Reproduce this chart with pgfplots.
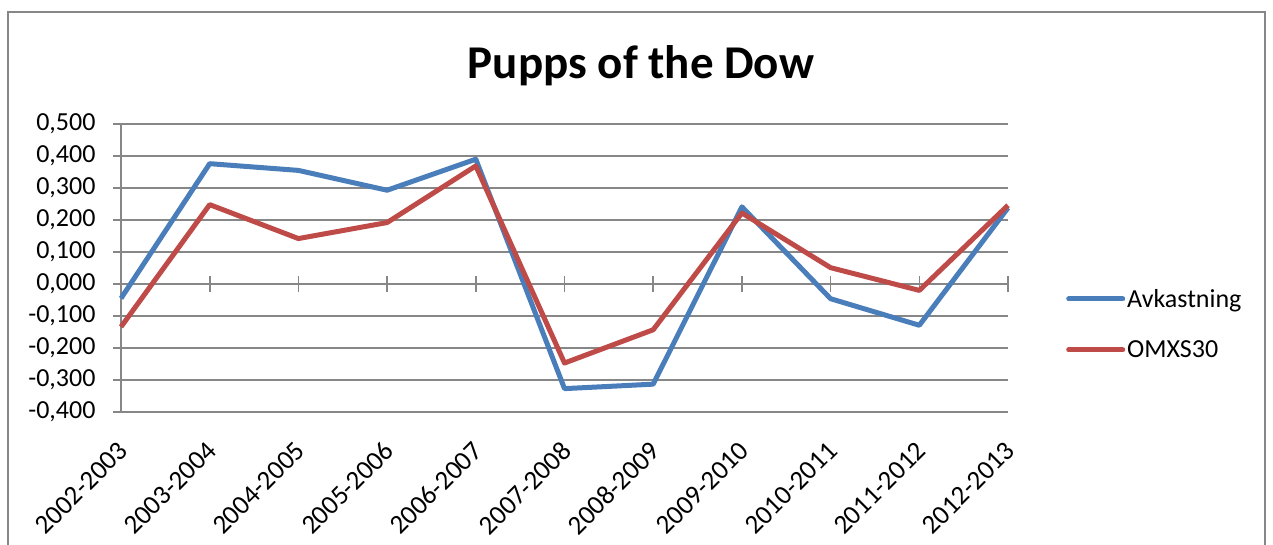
\documentclass[border=0pt]{standalone}
\usepackage{pgfplots}
\pgfplotsset{compat=1.18}
\usepackage{fontspec}
\setmainfont{Carlito}
\definecolor{avk}{HTML}{4A7EBB}
\definecolor{omx}{HTML}{BE4B48}
\definecolor{gridc}{HTML}{878787}
\begin{document}
\begin{tikzpicture}[x=1pt,y=1pt]
\path[use as bounding box] (0,0) rectangle (1273,545);
\draw[gridc, line width=1.6pt] (8,533) rectangle (1265,-10);
\node[font=\bfseries\fontsize{47}{54}\selectfont] at (641,479) {Pupps of the Dow};
\begin{axis}[
  at={(121pt,133pt)}, anchor=south west,
  scale only axis, width=887pt, height=288pt,
  xmin=0, xmax=10, ymin=-0.4, ymax=0.5,
  xtick={0,...,10},
  xticklabels={2002-2003,2003-2004,2004-2005,2005-2006,2006-2007,2007-2008,2008-2009,2009-2010,2010-2011,2011-2012,2012-2013},
  xticklabel style={rotate=45, anchor=east, font=\fontsize{27}{32}\selectfont, inner sep=2pt, xshift=-15pt, yshift=-20pt},
  ytick={-0.4,-0.3,...,0.5},
  yticklabel style={font=\fontsize{26}{31}\selectfont, xshift=-14pt, /pgf/number format/.cd, fixed, fixed zerofill, precision=3, use comma, assume math mode=true},
  axis x line*=bottom, axis y line*=left,
  x axis line style={draw=none},
  y axis line style={gridc, line width=1.6pt},
  x tick style={draw=none},
  y tick style={gridc, line width=1.6pt},
  tick align=outside, major tick length=8pt,
  ymajorgrids, grid style={gridc, line width=1.6pt},
  clip=false,
  legend style={draw=none, fill=none, at={(1.0654,0.305)}, anchor=west,
    font=\fontsize{26}{31}\selectfont, row sep=28pt, inner sep=0pt},
  legend cell align=left,
  legend image code/.code={\draw[#1, line width=5pt, line cap=round] (0pt,0pt) -- (54pt,0pt);},
]
\pgfplotsinvokeforeach{0,...,10}{\draw[gridc, line width=1.6pt] (axis cs:#1,-0.026) -- (axis cs:#1,0.026);}
\addplot[avk, line width=5pt, line join=round] coordinates {
 (0,-0.045) (1,0.376) (2,0.355) (3,0.293) (4,0.390) (5,-0.327) (6,-0.313) (7,0.241) (8,-0.046) (9,-0.129) (10,0.238)};
\addlegendentry{Avkastning}
\addplot[omx, line width=5pt, line join=round] coordinates {
 (0,-0.134) (1,0.248) (2,0.142) (3,0.192) (4,0.369) (5,-0.247) (6,-0.143) (7,0.222) (8,0.051) (9,-0.020) (10,0.246)};
\addlegendentry{OMXS30}
\end{axis}
\end{tikzpicture}
\end{document}
